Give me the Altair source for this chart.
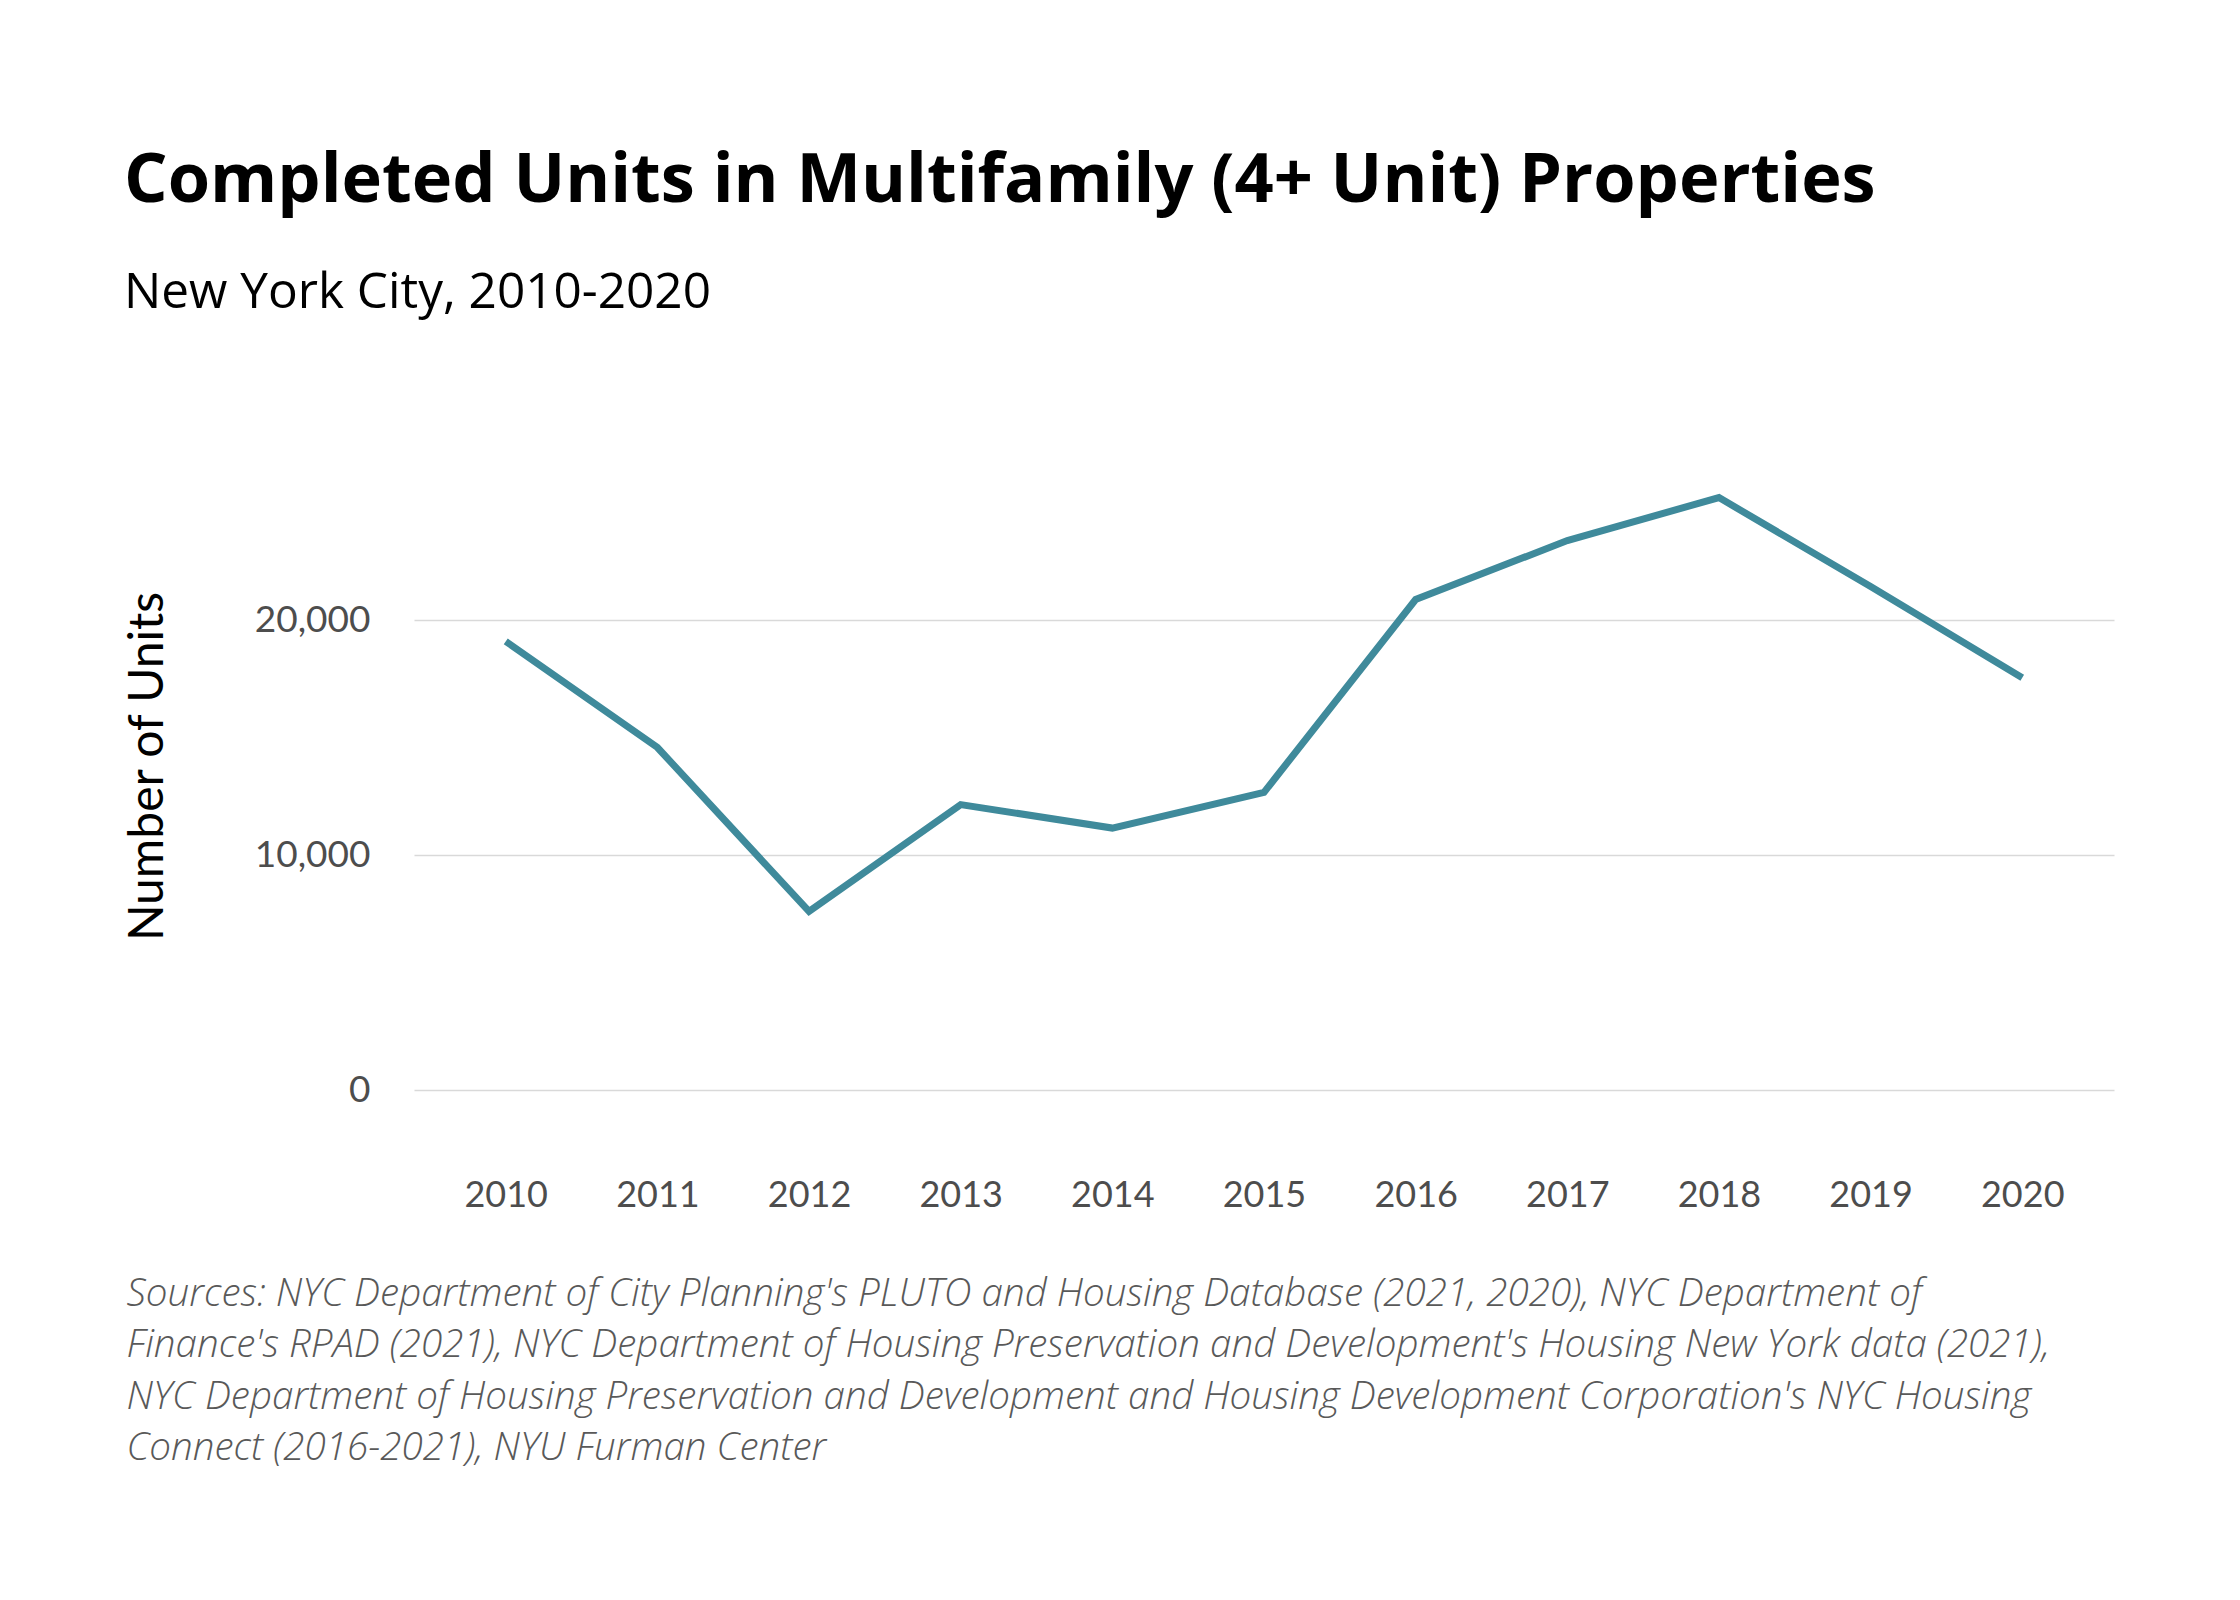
import altair as alt
import pandas as pd

years = ["2010", "2011", "2012", "2013", "2014", "2015", "2016", "2017", "2018", "2019", "2020"]
units = [19100, 14580, 7600, 12150, 11150, 12670, 20880, 23390, 25220, 21430, 17550]

title_text = "Completed Units in Multifamily (4+ Unit) Properties"
subtitle_text = "New York City, 2010-2020"
y_title = "Number of Units"
source_lines = [
    "Sources: NYC Department of City Planning's PLUTO and Housing Database (2021, 2020), NYC Department of",
    "Finance's RPAD (2021), NYC Department of Housing Preservation and Development's Housing New York data (2021),",
    "NYC Department of Housing Preservation and Development and Housing Development Corporation's NYC Housing",
    "Connect (2016-2021), NYU Furman Center",
]
y_ticks = [0, 10000, 20000]

df = pd.DataFrame({"year": years, "units": units})

FONT = "Lato"
TITLE_FONT = "Open Sans"

chart = alt.Chart(df).mark_line(color="#3f8a9b", strokeWidth=7, strokeJoin="miter").encode(
    x=alt.X(
        "year:O",
        scale=alt.Scale(type="point", padding=0.605),
        axis=alt.Axis(
            title=source_lines,
            titleFont=TITLE_FONT,
            titleFontSize=38.6,
            titleFontWeight=300,
            titleFontStyle="italic",
            titleColor="#595959",
            titleAlign="left",
            titleAnchor="start",
            titleBaseline="top",
            titleX=-288,
            titleY=185,
            titleLineHeight=51.5,
            labelAngle=0,
            labelFont=FONT,
            labelFontSize=36,
            labelColor="#4d4d4d",
            labelPadding=88,
            ticks=False,
            tickSize=0,
            domain=False,
            grid=False,
        ),
    ),
    y=alt.Y(
        "units:Q",
        scale=alt.Scale(domain=[0, 27500], nice=False),
        axis=alt.Axis(
            values=y_ticks,
            format=",d",
            title=y_title,
            titleFont=FONT,
            titleFontSize=48,
            titleFontWeight="normal",
            titleColor="#000000",
            titleAngle=270,
            titleAlign="center",
            titleBaseline="alphabetic",
            titleX=-252,
            titleY=322,
            labelFont=FONT,
            labelFontSize=37,
            labelColor="#4d4d4d",
            labelPadding=44,
            ticks=False,
            tickSize=0,
            domain=False,
            grid=True,
            gridColor="#d9d9d9",
            gridWidth=1.5,
        ),
    ),
).properties(
    width=1700,
    height=646,
    autosize=alt.AutoSizeParams(type="none"),
    padding={"left": 406, "top": 436, "right": 110, "bottom": 480},
    title=alt.TitleParams(
        text=title_text,
        subtitle=subtitle_text,
        anchor="start",
        frame="bounds",
        font=TITLE_FONT,
        fontSize=68.5,
        fontWeight="bold",
        color="#000000",
        subtitleFont=TITLE_FONT,
        subtitleFontSize=49.5,
        subtitleColor="#000000",
        subtitlePadding=52,
        offset=126,
    ),
).configure(background="white").configure_view(strokeWidth=0)

chart.save("out.html", embed_options={"renderer": "svg", "actions": False})
